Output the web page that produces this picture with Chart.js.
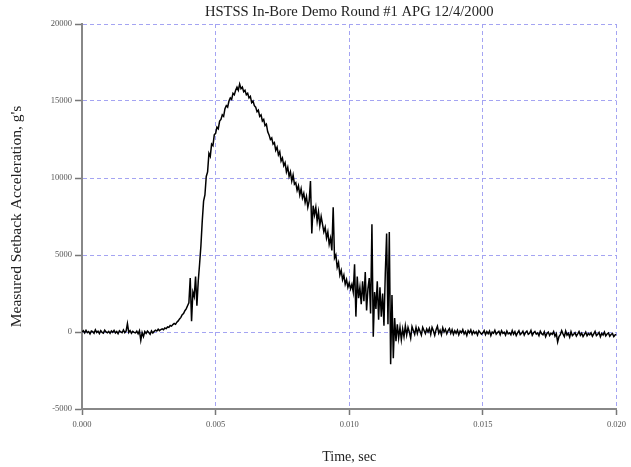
<!DOCTYPE html>
<html>
<head>
<meta charset="utf-8">
<script src="https://cdn.jsdelivr.net/npm/chart.js@4/dist/chart.umd.min.js"></script>
<style>
  html, body { margin: 0; padding: 0; background: #fff; }
  canvas { display: block; }
</style>
</head>
<body>
<canvas id="c" width="631" height="467"></canvas>
<script>
// ---- data ----
const chartTitle = "HSTSS In-Bore Demo Round #1 APG 12/4/2000";
const xAxisTitle = "Time, sec";
const yAxisTitle = "Measured Setback Acceleration, g's";

const sampleStepSec = 0.00005;   // one sample every 0.05 ms, starting at t = 0

// measured setback acceleration, g's (one row per millisecond)
const accelG = [
  0, 80, -60, 110, -40, 30, -120, 60, 20, -80, 140, -30, 50, -100, 90, -20, -70, 120, 10, -50,
  40, -90, 70, -20, 100, -60, 30, -110, 80, 0, -50, 130, -40, 60, 550, -30, 90, -80, 40, -20,
  -60, 50, -120, 80, -540, -40, -300, 30, -90, 60, -30, -150, 70, -60, 40, 120, 60, 180, 90, 160,
  200, 150, 260, 220, 330, 300, 420, 380, 480, 550, 500, 640, 720, 850, 950, 1120, 1200, 1380, 1500, 1700,
  1900, 3500, 700, 2600, 2300, 3600, 1700, 3300, 4400, 5600, 7200, 8500, 8900, 10100, 10400, 11600, 11400, 12200, 12100, 12800,
  12900, 13300, 13200, 13700, 13800, 14100, 14000, 14500, 14700, 14600, 15000, 15200, 15100, 15500, 15400, 15700, 15900, 15700, 16100, 15800,
  15900, 15600, 15700, 15400, 15500, 15200, 15300, 14900, 15000, 14700, 14600, 14300, 14400, 14000, 14100, 13700, 13800, 13400, 13500, 13000,
  12800, 12500, 12600, 12200, 12300, 11800, 12000, 11500, 11700, 11100, 11300, 10800, 11000, 10400, 10700, 10100, 10400, 9800, 10200, 9600,
  9700, 9200, 9500, 8900, 9300, 8700, 9000, 8400, 8800, 8100, 8500, 9800, 6400, 8200, 7600, 8100, 7200, 7800, 6900, 7500,
  7000, 6500, 6800, 6100, 6500, 5700, 6100, 5300, 8100, 4800, 5000, 4200, 4500, 3700, 4000, 3400, 3700, 3100, 3400, 2900,
  3200, 2800, 3100, 2600, 4400, 1000, 3600, 2200, 2900, 1800, 3300, 2000, 3900, 1400, 2800, 3500, 1200, 7000, -300, 2600,
  1500, 3300, 800, 2900, 1000, 2500, 400, 3800, 6400, 500, 6500, -2100, 2400, -1700, 900, -600, 500, -400, 300, -500,
  200, -300, 400, -200, 300, 0, -400, 350, 100, -150, 300, -100, 250, 50, -200, 300, 100, -100, 200, 0,
  230, -150, 300, 80, -220, 150, 380, -80, 120, -180, 270, 0, 180, -120, 90, 220, -90, 150, -150, 80,
  -80, 120, -180, 60, -50, 150, -120, 30, -220, 90, -60, 140, -150, 50, -90, 20, -200, 80, -30, -140,
  -60, 90, -170, 30, -110, 60, -240, 0, -80, 110, -140, -30, 50, -180, 80, -90, -20, -210, 60, -120,
  -50, -180, 90, -140, 20, -230, -60, 80, -170, -90, 50, -200, -30, 60, -150, -80, 100, -210, -50, 30,
  -130, -60, -240, 50, -110, -180, 20, -300, -90, 0, -230, -80, -150, 30, -270, -100, -650, -300, -180, 90,
  -120, -300, 60, -200, -90, -330, 20, -230, -140, -40, -260, -120, 30, -210, -80, -300, -150, 0, -240, -100,
  -180, -60, -280, -120, 40, -230, -150, -30, -310, -90, -200, 0, -250, -130, -60, -270, -160, -90, -300, -190,
  -150
];

const xTickValues = [0, 0.005, 0.010, 0.015, 0.020];
const xTickLabels = ["0.000", "0.005", "0.010", "0.015", "0.020"];
const yTickValues = [-5000, 0, 5000, 10000, 15000, 20000];
const yTickLabels = ["-5000", "0", "5000", "10000", "15000", "20000"];

// ---- build chart ----
const points = accelG.map((v, i) => ({ x: i * sampleStepSec, y: v }));

const SERIF = "'Liberation Serif', 'DejaVu Serif', serif";
const gridColor = '#a4a4f2';

const titlePlugin = {
  id: 'plotTitle',
  afterDraw(chart) {
    const { ctx, chartArea } = chart;
    ctx.save();
    ctx.font = "14.6px " + SERIF;
    ctx.fillStyle = '#222';
    ctx.textAlign = 'center';
    ctx.textBaseline = 'middle';
    ctx.fillText(chartTitle, (chartArea.left + chartArea.right) / 2, 12);
    ctx.restore();
  }
};

new Chart(document.getElementById('c'), {
  type: 'line',
  data: {
    datasets: [{
      data: points,
      borderColor: '#000',
      borderWidth: 1.5,
      pointRadius: 0,
      tension: 0,
      fill: false
    }]
  },
  options: {
    responsive: false,
    animation: false,
    devicePixelRatio: 1,
    layout: { padding: { top: 24, right: 12, left: 0, bottom: 0 } },
    plugins: {
      legend: { display: false },
      title: { display: false },
      tooltip: { enabled: false }
    },
    scales: {
      x: {
        type: 'linear',
        min: 0,
        max: 0.02,
        afterBuildTicks: s => { s.ticks = xTickValues.map(v => ({ value: v })); },
        afterFit: s => { s.height = 58; },
        ticks: {
          callback: (v, i) => xTickLabels[i],
          font: { family: SERIF, size: 8.5 },
          color: '#555',
          padding: 5,
          maxRotation: 0,
          autoSkip: false
        },
        grid: {
          color: gridColor,
          lineWidth: 1,
          drawTicks: true,
          tickLength: 6,
          tickColor: '#777',
          tickWidth: 1.5,
          tickBorderDash: []
        },
        border: { display: true, color: '#888', width: 2, dash: [4, 3] },
        title: {
          display: true,
          text: xAxisTitle,
          font: { family: SERIF, size: 14 },
          color: '#222',
          padding: { top: 0, bottom: 1 }
        }
      },
      y: {
        type: 'linear',
        min: -5000,
        max: 20000,
        afterBuildTicks: s => { s.ticks = yTickValues.map(v => ({ value: v })); },
        afterFit: s => { s.width = 82; },
        ticks: {
          callback: (v, i) => yTickLabels[i],
          font: { family: SERIF, size: 8.5 },
          color: '#555',
          padding: 3
        },
        grid: {
          color: gridColor,
          lineWidth: 1,
          drawTicks: true,
          tickLength: 7,
          tickColor: '#777',
          tickWidth: 1.5,
          tickBorderDash: []
        },
        border: { display: true, color: '#888', width: 2, dash: [4, 3] },
        title: {
          display: true,
          text: yAxisTitle,
          font: { family: SERIF, size: 15.5 },
          color: '#222',
          padding: { top: 8, bottom: 0 }
        }
      }
    }
  },
  plugins: [titlePlugin]
});
</script>
</body>
</html>
